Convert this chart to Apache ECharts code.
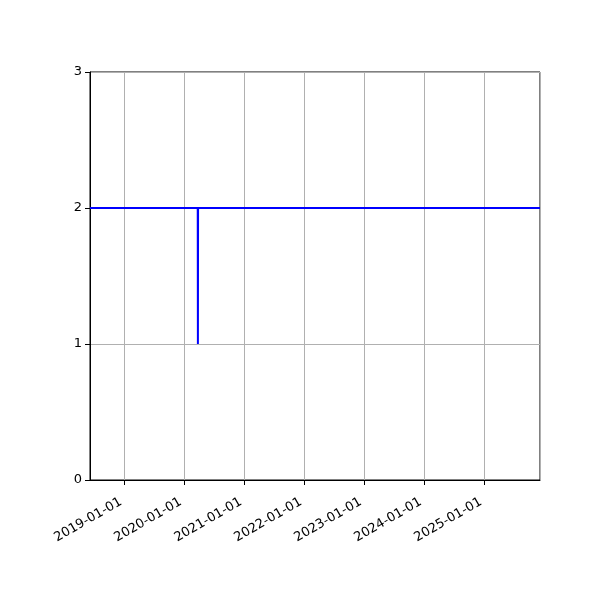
<!DOCTYPE html>
<html>
<head>
<meta charset="utf-8">
<script src="https://cdn.jsdelivr.net/npm/echarts@6/dist/echarts.min.js"></script>
<style>html,body{margin:0;padding:0;background:#fff}#c{width:600px;height:600px}</style>
</head>
<body>
<div id="c"></div>
<script>
const dates = ['2018-06-06', '2020-03-23', '2020-03-24', '2020-03-25', '2025-12-06'];
const values = [2, 2, 1, 2, 2];
const xMin = '2018-06-06';
const xMax = '2025-12-06';
const yTicks = [0, 1, 2, 3];

const chart = echarts.init(document.getElementById('c'), null, {renderer: 'canvas'});
const font = 'DejaVu Sans';
chart.setOption({
  animation: false,
  backgroundColor: '#fff',
  grid: {left: 90, right: 60, top: 72, bottom: 120, show: true, borderColor: '#000', borderWidth: 1, backgroundColor: 'transparent'},
  xAxis: {
    type: 'time',
    min: xMin,
    max: xMax,
    minInterval: 365 * 24 * 3600 * 1000,
    axisLine: {show: true, lineStyle: {color: '#000', width: 1}},
    axisTick: {show: true, length: 5, lineStyle: {color: '#000'}},
    minorTick: {show: false},
    axisLabel: {
      rotate: 30, color: '#000', fontFamily: font, fontSize: 13, margin: 19,
      padding: [0, 4, 0, 0],
      showMinLabel: false, showMaxLabel: false, hideOverlap: false,
      formatter: '{yyyy}-{MM}-{dd}'
    },
    splitLine: {show: true, lineStyle: {color: '#b0b0b0', width: 1}}
  },
  yAxis: {
    type: 'value',
    min: yTicks[0],
    max: yTicks[yTicks.length - 1],
    interval: 1,
    axisLine: {show: true, lineStyle: {color: '#000', width: 1}},
    axisTick: {show: true, length: 5, lineStyle: {color: '#000'}},
    axisLabel: {color: '#000', fontFamily: font, fontSize: 13, margin: 8},
    splitLine: {show: true, lineStyle: {color: '#b0b0b0', width: 1}}
  },
  series: [{
    type: 'line',
    data: dates.map((d, i) => [d, values[i]]),
    showSymbol: false,
    symbol: 'none',
    lineStyle: {color: '#0000ff', width: 2},
    itemStyle: {color: '#0000ff'}
  }]
});
</script>
</body>
</html>
